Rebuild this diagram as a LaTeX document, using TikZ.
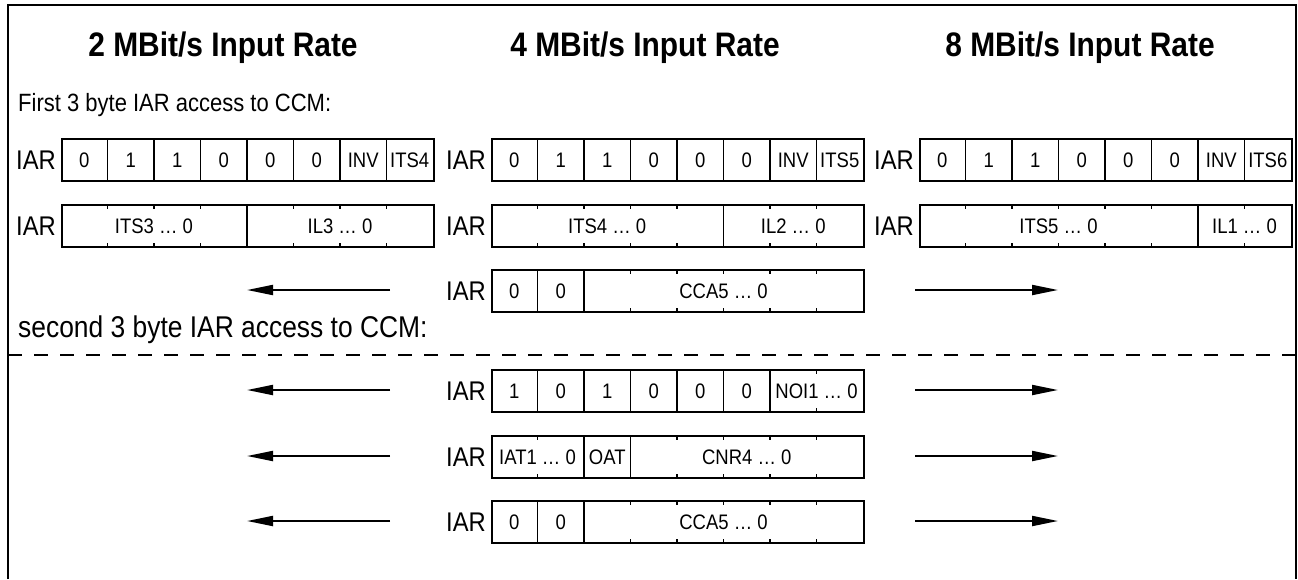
\documentclass[tikz,border=0pt]{standalone}
\usepackage{fontspec}
\setmainfont{Liberation Sans}[FakeStretch=0.88]
\usetikzlibrary{arrows.meta}
\tikzset{
  x=1pt, y=-1pt,
  regbox/.style={draw, line width=1.8pt, minimum width=372pt, minimum height=42pt, inner sep=0pt, anchor=north west},
  celltxt/.style={font=\fontsize{21}{21}\selectfont, inner sep=0pt},
  iarlbl/.style={font=\fontsize{27}{27}\selectfont, inner sep=0pt, anchor=east},
  divider/.style={line width=1.8pt},
  tickmark/.style={line width=1.8pt},
  titletxt/.style={font=\bfseries\fontsize{34}{34}\selectfont, inner sep=0pt},
  bodytxt/.style={anchor=west, inner sep=0pt},
  flow/.style={line width=2pt, -{Triangle[length=26pt,width=10pt]}},
}
\newcommand\mkreg[3]{%
  \node[regbox] (#1) at (#2,#3) {};
  \node[iarlbl] (#1-lbl) at ([xshift=-5pt]#1.west) {IAR};
}
\newcommand\fulldiv[2]{%
  \foreach \k in {#2} {\draw[divider] (#1.north west) ++(\k*46.5,0) -- ++(0,42);}}
\newcommand\tickdiv[2]{%
  \foreach \k in {#2} {\draw[tickmark] (#1.north west) ++(\k*46.5,0) -- ++(0,5);
    \draw[tickmark] (#1.south west) ++(\k*46.5,0) -- ++(0,-5);}}
\newcommand\cell[5]{%
  \path (#1.west) ++({(#2+#3)/2*46.5},0) node[celltxt] (#5) {#4};}
\newcommand\bytecells[2]{% reg, last cell text
  \cell{#1}{0}{1}{0}{#1-c1}\cell{#1}{1}{2}{1}{#1-c2}\cell{#1}{2}{3}{1}{#1-c3}
  \cell{#1}{3}{4}{0}{#1-c4}\cell{#1}{4}{5}{0}{#1-c5}\cell{#1}{5}{6}{0}{#1-c6}
  \cell{#1}{6}{7}{INV}{#1-c7}\cell{#1}{7}{8}{#2}{#1-c8}}
\begin{document}
\begin{tikzpicture}
\useasboundingbox (0,0) rectangle (1298,579);
% frame
\coordinate (fbl) at (8,579);
\coordinate (ftl) at (8,5);
\coordinate (ftr) at (1296,5);
\coordinate (fbr) at (1296,579);
\draw[line width=2pt] (fbl) -- (ftl) -- (ftr) -- (fbr);
% titles
\node[titletxt] (t2) at (223,48) {2 MBit/s Input Rate};
\node[titletxt] (t4) at (645,48) {4 MBit/s Input Rate};
\node[titletxt] (t8) at (1080,48) {8 MBit/s Input Rate};
\node[bodytxt, font=\fontsize{25}{25}\selectfont] (first) at (18,105) {First 3 byte IAR access to CCM:};
\node[bodytxt, font=\fontsize{30}{30}\selectfont] (second) at (18,330) {second 3 byte IAR access to CCM:};
% dashed separator
\coordinate (dl) at (8,355);
\coordinate (dr) at (1296,355);
\draw[line width=1.6pt, dash pattern=on 14pt off 12pt] (dl) -- (dr);
% row 1
\mkreg{ra1}{61}{138}\fulldiv{ra1}{1,...,7}\bytecells{ra1}{ITS4}
\mkreg{rb1}{491}{138}\fulldiv{rb1}{1,...,7}\bytecells{rb1}{ITS5}
\mkreg{rc1}{919}{138}\fulldiv{rc1}{1,...,7}\bytecells{rc1}{ITS6}
% row 2
\mkreg{ra2}{61}{204}\fulldiv{ra2}{4}\tickdiv{ra2}{1,2,3,5,6,7}
\cell{ra2}{0}{4}{ITS3 … 0}{ra2-its}\cell{ra2}{4}{8}{IL3 … 0}{ra2-il}
\mkreg{rb2}{491}{204}\fulldiv{rb2}{5}\tickdiv{rb2}{1,2,3,4,6,7}
\cell{rb2}{0}{5}{ITS4 … 0}{rb2-its}\cell{rb2}{5}{8}{IL2 … 0}{rb2-il}
\mkreg{rc2}{919}{204}\fulldiv{rc2}{6}\tickdiv{rc2}{1,2,3,4,5,7}
\cell{rc2}{0}{6}{ITS5 … 0}{rc2-its}\cell{rc2}{6}{8}{IL1 … 0}{rc2-il}
% row 3
\mkreg{r3}{491}{269}\fulldiv{r3}{1,2}\tickdiv{r3}{3,...,7}
\cell{r3}{0}{1}{0}{r3-c1}\cell{r3}{1}{2}{0}{r3-c2}\cell{r3}{2}{8}{CCA5 … 0}{r3-cca}
% row 4
\mkreg{r4}{491}{369}\fulldiv{r4}{1,...,6}\tickdiv{r4}{7}
\cell{r4}{0}{1}{1}{r4-c1}\cell{r4}{1}{2}{0}{r4-c2}\cell{r4}{2}{3}{1}{r4-c3}
\cell{r4}{3}{4}{0}{r4-c4}\cell{r4}{4}{5}{0}{r4-c5}\cell{r4}{5}{6}{0}{r4-c6}
\cell{r4}{6}{8}{NOI1 … 0}{r4-noi}
% row 5
\mkreg{r5}{491}{435}\fulldiv{r5}{2,3}\tickdiv{r5}{1,4,5,6,7}
\cell{r5}{0}{2}{IAT1 … 0}{r5-iat}\cell{r5}{2}{3}{OAT}{r5-oat}\cell{r5}{3}{8}{CNR4 … 0}{r5-cnr}
% row 6
\mkreg{r6}{491}{500}\fulldiv{r6}{1,2}\tickdiv{r6}{3,...,7}
\cell{r6}{0}{1}{0}{r6-c1}\cell{r6}{1}{2}{0}{r6-c2}\cell{r6}{2}{8}{CCA5 … 0}{r6-cca}
% arrows
\foreach \r/\yy in {3/290,4/390,5/456,6/521} {
  \coordinate (la\r) at (390,\yy);
  \coordinate (lb\r) at (247,\yy);
  \coordinate (ra\r) at (915,\yy);
  \coordinate (rb\r) at (1058,\yy);
  \draw[flow] (la\r) -- (lb\r);
  \draw[flow] (ra\r) -- (rb\r);
}
\end{tikzpicture}
\end{document}
